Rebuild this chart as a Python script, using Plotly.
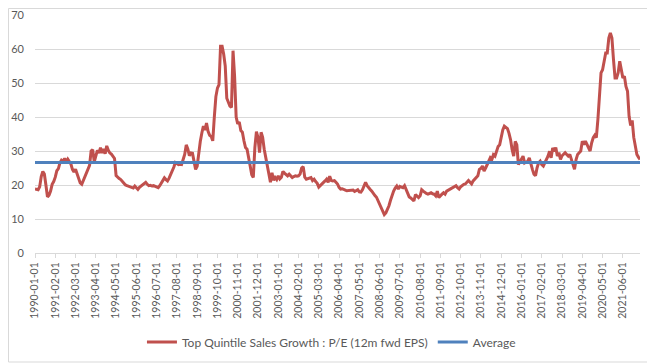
import plotly.graph_objects as go
import pandas as pd

# Monthly categories 1990-01 .. 2022-05
months = [d.strftime("%Y-%m-%d") for d in pd.date_range("1990-01-01", "2022-05-01", freq="MS")]

pe_values = [
    # 1990
    18.8, 18.7, 18.6, 19.5, 22.5, 24.0, 23.2, 20.0, 16.5, 17.0, 18.2, 20.2,
    # 1991
    21.0, 22.3, 24.2, 24.8, 26.5, 27.3, 27.0, 27.8, 26.8, 27.6, 27.0, 26.2,
    # 1992
    24.6, 23.8, 24.6, 23.0, 21.5, 20.6, 20.2, 21.4, 22.6, 23.5, 25.2, 25.8,
    # 1993
    30.0, 30.4, 26.8, 28.2, 30.2, 29.4, 31.0, 29.4, 30.6, 29.2, 31.5, 30.2,
    # 1994
    29.4, 29.1, 28.6, 27.8, 22.8, 22.2, 21.9, 21.6, 21.0, 20.4, 20.0, 19.8,
    # 1995
    19.6, 19.5, 19.3, 19.1, 19.7, 19.2, 18.7, 19.3, 19.7, 20.0, 20.5, 20.8,
    # 1996
    20.2, 19.8, 19.9, 19.7, 19.8, 19.6, 19.4, 19.2, 19.8, 20.6, 21.5, 22.1,
    # 1997
    21.6, 21.2, 22.0, 23.0, 23.8, 25.2, 26.6, 26.2, 26.0, 26.1, 26.0, 27.5,
    # 1998
    29.0, 31.8, 30.6, 28.6, 29.4, 29.3, 27.0, 24.6, 25.5, 30.0, 32.8, 35.3,
    # 1999
    37.3, 36.2, 38.2, 35.8, 34.6, 34.3, 33.0, 40.0, 46.0, 48.5, 49.5, 60.8,
    # 2000
    60.8, 58.5, 55.0, 45.5, 44.0, 43.2, 42.8, 59.5, 52.0, 40.0, 38.0, 38.5,
    # 2001
    36.0, 35.5, 33.0, 31.0, 30.5, 27.5, 25.6, 23.0, 22.2, 31.0, 35.7, 34.0,
    # 2002
    29.5, 35.5, 34.0, 30.5, 27.8, 25.5, 23.5, 20.8, 23.6, 21.4, 22.2, 21.6,
    # 2003
    22.7, 21.8, 22.3, 24.0, 23.5, 23.0, 22.7, 23.2, 22.6, 22.2, 22.5, 22.7,
    # 2004
    22.6, 22.7, 23.2, 25.0, 25.4, 22.3, 21.7, 21.9, 22.0, 22.2, 21.3, 21.7,
    # 2005
    21.0, 20.5, 19.4, 19.8, 20.3, 20.8, 21.2, 21.7, 20.8, 22.6, 21.3, 21.2,
    # 2006
    21.3, 20.8, 20.3, 19.3, 18.8, 18.9, 18.8, 18.5, 18.3, 18.4, 18.3, 18.6,
    # 2007
    18.5, 18.1, 18.3, 18.6, 18.0, 17.9, 18.6, 19.6, 20.8, 19.8, 19.1, 18.7,
    # 2008
    18.2, 17.4, 16.9, 16.4, 15.3, 14.2, 13.4, 12.3, 11.3, 11.8, 12.8, 13.9,
    # 2009
    15.5, 17.0, 18.2, 19.1, 19.7, 18.8, 19.6, 19.4, 19.2, 19.8, 18.5, 17.2,
    # 2010
    16.5, 16.2, 15.7, 15.3, 17.2, 16.7, 16.3, 16.8, 18.6, 18.2, 17.7, 17.5,
    # 2011
    17.3, 17.5, 17.7, 17.4, 17.3, 16.8, 18.2, 16.3, 16.9, 17.3, 17.7, 17.3,
    # 2012
    18.2, 18.5, 18.7, 18.9, 19.2, 19.6, 19.8, 19.2, 18.8, 19.5, 20.0, 20.2,
    # 2013
    20.3, 20.8, 21.3, 20.8, 20.3, 21.2, 21.7, 22.2, 22.7, 24.6, 24.9, 25.6,
    # 2014
    24.1, 25.0, 26.0, 27.0, 28.0, 27.5, 28.9, 28.5, 29.9, 31.3, 31.8, 34.2,
    # 2015
    36.2, 37.3, 37.0, 36.6, 35.2, 33.3, 30.4, 28.5, 32.8, 31.8, 26.0, 27.0,
    # 2016
    28.0, 28.5, 26.5, 26.8, 27.0, 28.0, 26.0, 24.6, 23.2, 22.7, 25.1, 26.5,
    # 2017
    27.0, 26.0, 25.6, 26.5, 27.5, 28.5, 29.9, 28.0, 30.9, 29.9, 31.0, 28.5,
    # 2018
    29.5, 27.5, 28.6, 29.0, 29.5, 29.0, 28.5, 29.0, 27.5, 26.0, 24.6, 27.5,
    # 2019
    29.0, 29.5, 30.0, 32.9, 31.9, 32.9, 31.9, 31.4, 30.0, 32.4, 33.9, 34.6,
    # 2020
    33.9, 39.3, 46.1, 53.0, 53.9, 56.4, 58.8, 58.8, 63.2, 64.7, 63.2, 56.9,
    # 2021
    51.5, 51.5, 53.0, 56.4, 54.4, 51.5, 52.0, 49.0, 47.6, 40.2, 37.5, 39.0,
    # 2022
    34.0, 31.0, 29.0, 28.2, 27.5,
]

average_value = 26.6
average_values = [average_value] * len(months)

tick_labels = [
    "1990-01-01", "1991-02-01", "1992-03-01", "1993-04-01", "1994-05-01",
    "1995-06-01", "1996-07-01", "1997-08-01", "1998-09-01", "1999-10-01",
    "2000-11-01", "2001-12-01", "2003-01-01", "2004-02-01", "2005-03-01",
    "2006-04-01", "2007-05-01", "2008-06-01", "2009-07-01", "2010-08-01",
    "2011-09-01", "2012-10-01", "2013-11-01", "2014-12-01", "2016-01-01",
    "2017-02-01", "2018-03-01", "2019-04-01", "2020-05-01", "2021-06-01",
]

series_names = ["Top Quintile Sales Growth : P/E (12m fwd EPS)", "Average"]

FONT = "Lato, Carlito, Calibri, sans-serif"
GRAY_TXT = "#595959"

# page has an 8px body margin, so the figure is sized/positioned to compensate
W, H = 647, 356
L, R, T, B = 27, 15, 7, 111

fig = go.Figure()
fig.add_trace(go.Scatter(x=months, y=pe_values, mode="lines", name=series_names[0],
                         line=dict(color="#C0504D", width=3)))
fig.add_trace(go.Scatter(x=months, y=average_values, mode="lines", name=series_names[1],
                         line=dict(color="#4F81BD", width=3)))

fig.update_layout(
    width=W, height=H,
    margin=dict(l=L, r=R, t=T, b=B, autoexpand=False),
    paper_bgcolor="white", plot_bgcolor="white",
    font=dict(family=FONT, color=GRAY_TXT, size=11),
    showlegend=True,
    legend=dict(orientation="h", x=0.49, xanchor="center", y=-0.374, yanchor="middle",
                font=dict(size=12, color=GRAY_TXT), itemwidth=30, traceorder="normal"),
    xaxis=dict(type="category", range=[0, len(months) - 1], tickmode="array",
               tickvals=tick_labels, ticktext=tick_labels, tickangle=-90,
               showgrid=False, showline=True, linecolor="#D9D9D9", linewidth=1,
               ticks="outside", ticklen=4, tickcolor="#D9D9D9", automargin=False,
               ticklabeloverflow="allow",
               tickfont=dict(size=10.5, color=GRAY_TXT)),
    yaxis=dict(range=[0, 70], dtick=10, showgrid=True, gridcolor="#D9D9D9", gridwidth=1,
               zeroline=False, showline=False, ticks="", automargin=False,
               ticklabeloverflow="allow",
               ticklabelstandoff=10, tickfont=dict(size=11, color=GRAY_TXT)),
)

# chart-area border
pw, ph = float(W - L - R), float(H - T - B)
fig.add_shape(type="rect", xref="paper", yref="paper",
              x0=(0.5 - L) / pw, x1=(643 - L) / pw,
              y0=(H - B - 354) / ph, y1=(H - B - 0.5) / ph,
              line=dict(color="#D9D9D9", width=1), fillcolor="rgba(0,0,0,0)", layer="below")

fig.write_html("out.html")
